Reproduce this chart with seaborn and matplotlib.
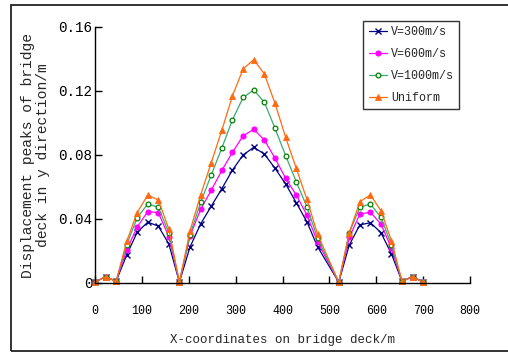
import matplotlib
matplotlib.use("Agg")
import matplotlib.pyplot as plt
import matplotlib.patches as mpatches
import seaborn as sns

# ---- data ----
x_coords = [0, 22.5, 45, 67.5, 90, 112.5, 135, 157.5, 180,
            202.7, 225.3, 248, 270.7, 293.3, 316, 338.7, 361.3, 384, 406.7,
            429.3, 452, 474.7, 520,
            542.5, 565, 587.5, 610, 632.5, 655, 677.5, 700]

v300 = [0.0005, 0.004, 0.001, 0.0175, 0.0317, 0.038, 0.0356, 0.0244, 0.0005,
        0.0225, 0.0369, 0.048, 0.059, 0.0706, 0.080, 0.0848, 0.0806, 0.0717, 0.0619,
        0.0502, 0.0383, 0.0227, 0.0005,
        0.0238, 0.0363, 0.0377, 0.0315, 0.0181, 0.001, 0.004, 0.0005]

v600 = [0.0005, 0.004, 0.001, 0.0206, 0.035, 0.0446, 0.044, 0.029, 0.0005,
        0.0293, 0.046, 0.058, 0.0704, 0.0817, 0.092, 0.096, 0.0894, 0.078, 0.0654,
        0.055, 0.0425, 0.0258, 0.0005,
        0.0285, 0.0431, 0.0442, 0.0369, 0.0217, 0.001, 0.004, 0.0005]

v1000 = [0.0005, 0.004, 0.001, 0.0238, 0.0408, 0.0494, 0.0473, 0.0315, 0.0005,
         0.0301, 0.0504, 0.0675, 0.0845, 0.102, 0.116, 0.1206, 0.113, 0.0967, 0.0796,
         0.0633, 0.0477, 0.028, 0.0005,
         0.0315, 0.0473, 0.0494, 0.041, 0.0238, 0.001, 0.004, 0.0005]

uniform = [0.0005, 0.004, 0.001, 0.026, 0.044, 0.055, 0.0519, 0.0338, 0.0005,
           0.0326, 0.055, 0.0752, 0.0956, 0.117, 0.1338, 0.1396, 0.1306, 0.1123, 0.091,
           0.0717, 0.0523, 0.0306, 0.0005,
           0.0315, 0.0508, 0.055, 0.0452, 0.0263, 0.001, 0.004, 0.0005]

series_labels = ["V=300m/s", "V=600m/s", "V=1000m/s", "Uniform"]
x_ticks = [0, 100, 200, 300, 400, 500, 600, 700, 800]
x_tick_labels = ["0", "100", "200", "300", "400", "500", "600", "700", "800"]
y_ticks = [0, 0.04, 0.08, 0.12, 0.16]
y_tick_labels = ["0", "0.04", "0.08", "0.12", "0.16"]
x_label = "X-coordinates on bridge deck/m"
y_label = "Displacement peaks of bridge\ndeck in y direction/m"

# ---- styling ----
sns.set_style("ticks")
plt.rcParams['font.family'] = ['Liberation Mono', 'DejaVu Sans Mono']

fig = plt.figure(figsize=(5.08, 3.53), dpi=100)
ax = fig.add_axes([95 / 508, 1 - 283 / 353, (470 - 95) / 508, (283 - 27) / 353])

styles = [
    dict(color="#000080", marker="x", markersize=4, markeredgecolor="#000080",
         markerfacecolor="#000080", markeredgewidth=1.0),
    dict(color="#FF00FF", marker="o", markersize=3.6, markeredgecolor="#FF00FF",
         markerfacecolor="#FF00FF", markeredgewidth=0.8),
    dict(color="#3CAA70", marker="o", markersize=3.4, markeredgecolor="#008000",
         markerfacecolor="white", markeredgewidth=0.9),
    dict(color="#FF6A10", marker="^", markersize=5, markeredgecolor="#FF6A10",
         markerfacecolor="#FF6A10", markeredgewidth=0.6),
]

for yvals, lab, st in zip([v300, v600, v1000, uniform], series_labels, styles):
    sns.lineplot(x=x_coords, y=yvals, ax=ax, label=lab, linewidth=0.9,
                 clip_on=False, **st)

ax.set_xlim(0, 800)
ax.set_ylim(0, 0.16)
ax.set_xticks(x_ticks)
ax.set_xticklabels(x_tick_labels, fontsize=8.4)
ax.set_yticks(y_ticks)
ax.set_yticklabels(y_tick_labels, fontsize=10.3)
ax.tick_params(axis='x', direction='in', length=5, width=1, pad=16, colors='black')
ax.tick_params(axis='y', direction='in', length=5, width=1, pad=2, colors='black')
for s in ['top', 'right']:
    ax.spines[s].set_visible(False)
for s in ['left', 'bottom']:
    ax.spines[s].set_linewidth(1.0)
    ax.spines[s].set_color('black')

ax.set_xlabel(x_label, fontsize=9, labelpad=12)
ax.set_ylabel(y_label, fontsize=10.5, labelpad=6, linespacing=1.1)

leg = ax.legend(loc='upper right', bbox_to_anchor=(459 / 508, 1 - 21 / 353),
                bbox_transform=fig.transFigure, borderaxespad=0,
                fontsize=8.4, frameon=True, fancybox=False, handlelength=1.6,
                handletextpad=0.3, labelspacing=0.85, borderpad=0.45)
leg.get_frame().set_edgecolor('black')
leg.get_frame().set_linewidth(1.0)

# outer frame around the chart
frame = mpatches.Rectangle((11 / 508, 1 - 351 / 353), 1.2, (351 - 5) / 353,
                           transform=fig.transFigure, fill=False,
                           edgecolor='#222222', linewidth=1.3)
fig.patches.append(frame)

fig.savefig("out.png", dpi=100)
